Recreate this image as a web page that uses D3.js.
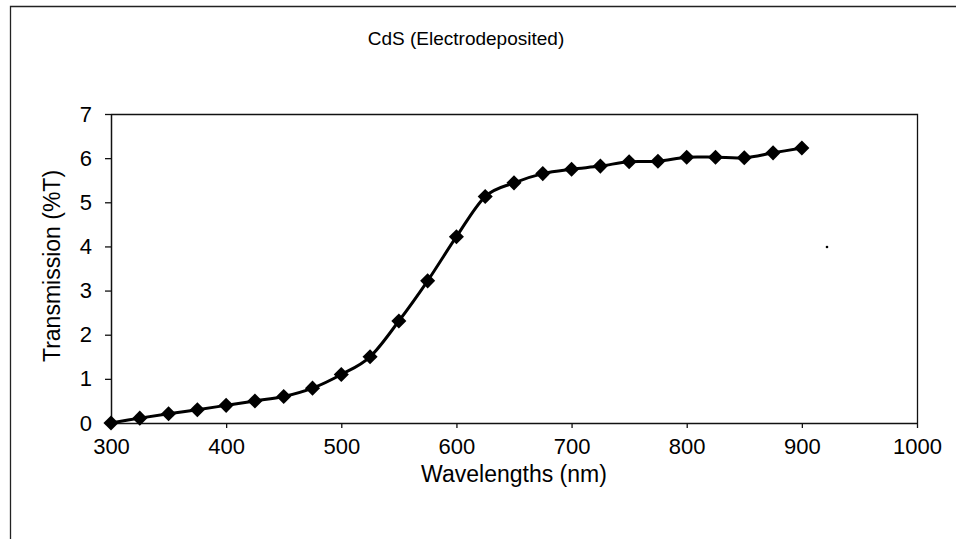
<!DOCTYPE html>
<html>
<head>
<meta charset="utf-8">
<script src="https://cdn.jsdelivr.net/npm/d3@7"></script>
<style>
  html, body { margin: 0; padding: 0; background: #fff; }
  svg { display: block; font-family: "Liberation Sans", Arial, sans-serif; }
</style>
</head>
<body>
<svg id="chart" width="956" height="539"></svg>
<script>
// Transmission spectrum of electrodeposited CdS film
const wavelengths = [300, 325, 350, 375, 400, 425, 450, 475, 500, 525, 550, 575, 600,
                     625, 650, 675, 700, 725, 750, 775, 800, 825, 850, 875, 900];
const transmission = [0, 0.11, 0.21, 0.3, 0.4, 0.5, 0.6, 0.79, 1.1, 1.5, 2.31, 3.22, 4.22,
                      5.13, 5.44, 5.65, 5.75, 5.82, 5.92, 5.93, 6.02, 6.02, 6.01, 6.12, 6.23];
const xTicks = [300, 400, 500, 600, 700, 800, 900, 1000];
const yTicks = [0, 1, 2, 3, 4, 5, 6, 7];
const chartTitle = "CdS (Electrodeposited)";
const xTitle = "Wavelengths (nm)";
const yTitle = "Transmission (%T)";

const svg = d3.select("#chart");
const plot = { left: 111, right: 917, top: 114, bottom: 423 };

const x = d3.scaleLinear().domain([300, 1000]).range([plot.left, plot.right]);
const y = d3.scaleLinear().domain([0, 7]).range([plot.bottom, plot.top]);

// outer chart frame (top and left edges)
svg.append("path")
  .attr("d", "M10.5,539 V6.5 H956")
  .attr("fill", "none").attr("stroke", "#222").attr("stroke-width", 1.3);

// plot area frame
svg.append("path")
  .attr("d", `M${plot.left},${plot.top + 0.5} H${plot.right + 0.5} V${plot.bottom}`)
  .attr("fill", "none").attr("stroke", "#111").attr("stroke-width", 1.3);

// axes
const xAxis = svg.append("g")
  .attr("transform", `translate(0,${plot.bottom})`)
  .call(d3.axisBottom(x).tickValues(xTicks).tickFormat(d3.format("d"))
    .tickSizeOuter(0).tickSizeInner(5).tickPadding(10));
const yAxis = svg.append("g")
  .attr("transform", `translate(${plot.left},0)`)
  .call(d3.axisLeft(y).tickValues(yTicks).tickFormat(d3.format("d"))
    .tickSizeOuter(0).tickSizeInner(6).tickPadding(13));

[xAxis, yAxis].forEach(g => {
  g.select(".domain").attr("stroke", "#111").attr("stroke-width", 1.5);
  g.selectAll(".tick line").attr("stroke", "#111").attr("stroke-width", 1.3);
  g.selectAll(".tick text").attr("fill", "#000").style("font-size", "22px")
    .style("font-family", "'Liberation Sans', Arial, sans-serif");
});

// smoothed data line
const line = d3.line()
  .x((d, i) => x(wavelengths[i]))
  .y(d => y(d))
  .curve(d3.curveCatmullRom.alpha(0));

svg.append("path")
  .datum(transmission)
  .attr("d", line)
  .attr("fill", "none")
  .attr("stroke", "#000")
  .attr("stroke-width", 3);

// diamond markers
const diamond = d3.symbol().type(d3.symbolDiamond2).size(145);
svg.append("g").selectAll("path")
  .data(transmission)
  .join("path")
  .attr("d", diamond)
  .attr("transform", (d, i) => `translate(${x(wavelengths[i])},${y(d)})`)
  .attr("fill", "#000");

// titles
svg.append("text")
  .attr("x", 466).attr("y", 45)
  .attr("text-anchor", "middle")
  .style("font-size", "19px")
  .text(chartTitle);

svg.append("text")
  .attr("x", 514).attr("y", 482)
  .attr("text-anchor", "middle")
  .style("font-size", "23px")
  .text(xTitle);

svg.append("text")
  .attr("transform", "translate(60,266) rotate(-90)")
  .attr("text-anchor", "middle")
  .style("font-size", "23px")
  .text(yTitle);

// small speck in the plot area
svg.append("circle").attr("cx", 827).attr("cy", 247).attr("r", 1.3).attr("fill", "#000");
</script>
</body>
</html>
